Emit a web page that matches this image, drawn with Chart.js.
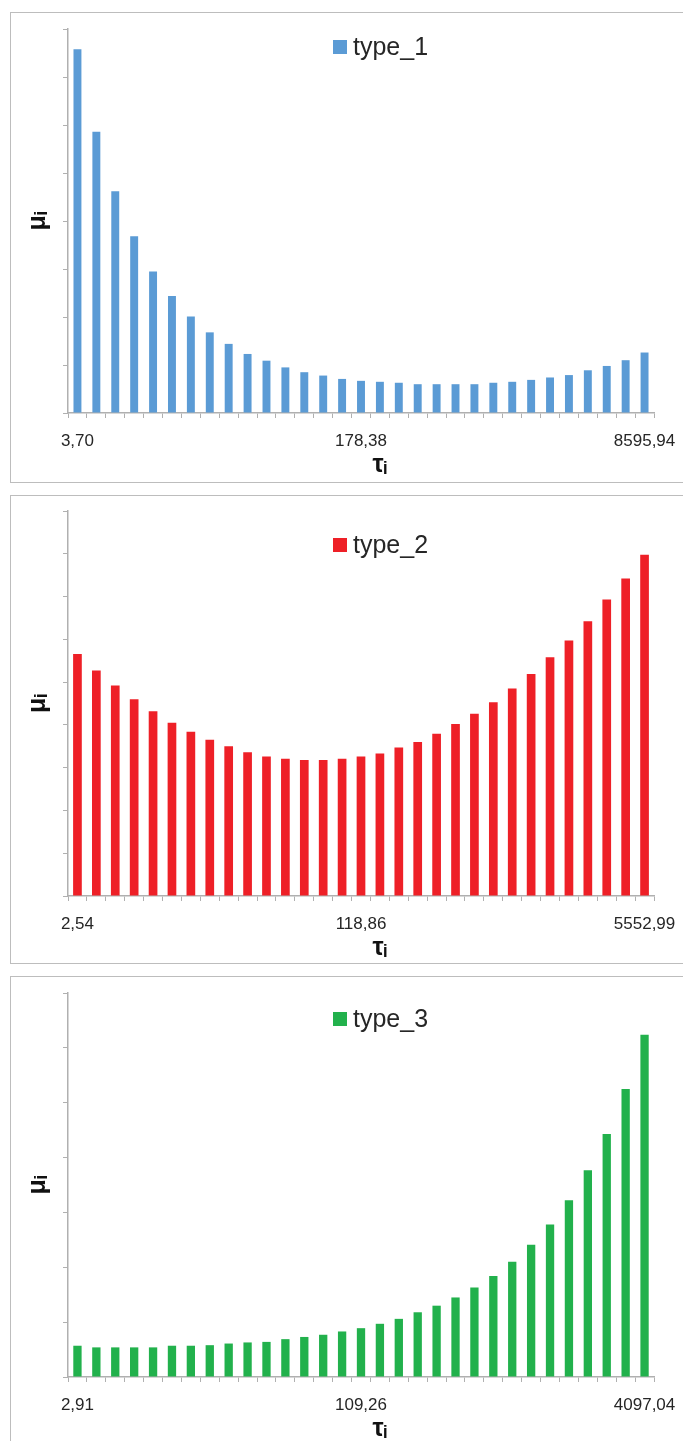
<!DOCTYPE html>
<html>
<head>
<meta charset="utf-8">
<script src="https://cdn.jsdelivr.net/npm/chart.js@4/dist/chart.umd.min.js"></script>
<style>
  html, body { margin: 0; padding: 0; background: #fff; overflow: hidden; }
  body { width: 683px; height: 1441px; position: relative; }
  .panel { position: absolute; left: 10px; width: 740px; border: 1px solid #bdbdbd; box-sizing: border-box; }
  .box { position: absolute; left: 10px; width: 673px; height: 471px; }
</style>
</head>
<body>
<div class="panel" style="top:12px;height:471px"></div>
<div class="panel" style="top:495px;height:469px"></div>
<div class="panel" style="top:976px;height:480px"></div>
<div class="box" style="top:12px"><canvas id="c1"></canvas></div>
<div class="box" style="top:495px"><canvas id="c2"></canvas></div>
<div class="box" style="top:976px"><canvas id="c3"></canvas></div>
<script>
// values (y axis has no numbers, units = tick intervals)
const type1 = [7.58, 5.86, 4.62, 3.68, 2.95, 2.44, 2.01, 1.68, 1.44, 1.23, 1.09, 0.95, 0.85, 0.78, 0.71, 0.67,
  0.65, 0.63, 0.60, 0.60, 0.60, 0.60, 0.63, 0.65, 0.69, 0.74, 0.79, 0.89, 0.98, 1.10, 1.26];
const type2 = [5.66, 5.27, 4.92, 4.60, 4.32, 4.05, 3.84, 3.65, 3.50, 3.36, 3.26, 3.21, 3.18, 3.18, 3.21, 3.26,
  3.33, 3.47, 3.60, 3.79, 4.02, 4.26, 4.53, 4.85, 5.19, 5.58, 5.97, 6.42, 6.93, 7.42, 7.98];
const type3 = [0.57, 0.54, 0.54, 0.54, 0.54, 0.57, 0.57, 0.58, 0.61, 0.63, 0.64, 0.69, 0.73, 0.77, 0.83, 0.89,
  0.97, 1.06, 1.18, 1.30, 1.45, 1.63, 1.84, 2.10, 2.41, 2.78, 3.22, 3.77, 4.43, 5.25, 6.24];

// only first, middle and last tau are printed
const tau1 = ['3,70', '178,38', '8595,94'];
const tau2 = ['2,54', '118,86', '5552,99'];
const tau3 = ['2,91', '109,26', '4097,04'];

function makeLabels(shown, n) {
  const out = [];
  for (let i = 0; i < n; i++) out.push('');
  out[0] = shown[0];
  out[Math.floor(n / 2)] = shown[1];
  out[n - 1] = shown[2];
  return out;
}

const axisGrey = '#b0b0b0';
const font = '"Liberation Sans", Arial, sans-serif';

// legend sits inside the plot, so draw it by hand
const innerLegend = {
  id: 'innerLegend',
  afterDraw(chart, args, opts) {
    const ds = chart.data.datasets[0];
    const ctx = chart.ctx;
    ctx.save();
    ctx.font = '25px ' + font;
    ctx.fillStyle = ds.backgroundColor;
    ctx.fillRect(opts.x, opts.y - 7, 14, 14);
    ctx.fillStyle = '#262626';
    ctx.textBaseline = 'middle';
    ctx.fillText(ds.label, opts.x + 20, opts.y + 1);
    ctx.restore();
  }
};

function makeChart(id, label, values, tau, color, yMax, padTop, legendY, barPct) {
  return new Chart(document.getElementById(id), {
    type: 'bar',
    data: {
      labels: makeLabels(tau, values.length),
      datasets: [{
        label: label,
        data: values,
        backgroundColor: color,
        barPercentage: barPct,
        categoryPercentage: 1
      }]
    },
    plugins: [innerLegend],
    options: {
      responsive: true,
      maintainAspectRatio: false,
      animation: false,
      layout: { padding: { top: padTop, left: 0, right: 29, bottom: 0 } },
      plugins: {
        legend: { display: false },
        tooltip: { enabled: false },
        innerLegend: { x: 323, y: legendY }
      },
      scales: {
        x: {
          grid: { drawOnChartArea: false, color: axisGrey, tickLength: 5, offset: true },
          border: { color: axisGrey, width: 1.5 },
          ticks: {
            autoSkip: false, maxRotation: 0, padding: 13, color: '#262626',
            font: { family: font, size: 17 }
          },
          title: {
            display: true, text: '\u2002\u2002\u2002τᵢ', color: '#111',
            font: { family: font, size: 25, weight: 'bold' },
            padding: { top: 0, bottom: 3 }
          },
          afterFit(s) { s.height = 70; s.paddingLeft = 0; s.paddingRight = 0; }
        },
        y: {
          min: 0, max: yMax,
          grid: { drawOnChartArea: false, color: axisGrey, tickLength: 5 },
          border: { color: axisGrey, width: 1.5 },
          ticks: { display: false, stepSize: 1 },
          title: {
            display: true, text: 'μᵢ', color: '#111',
            font: { family: font, size: 25, weight: 'bold' },
            padding: { top: 13, bottom: 0 }
          },
          afterFit(s) { s.width = 58; }
        }
      }
    }
  });
}

makeChart('c1', 'type_1', type1, tau1, '#5b9bd5', 8, 17, 35, 0.42);
makeChart('c2', 'type_2', type2, tau2, '#ee2027', 9, 16, 50, 0.46);
makeChart('c3', 'type_3', type3, tau3, '#22b14c', 7, 17, 43, 0.44);
</script>
</body>
</html>
